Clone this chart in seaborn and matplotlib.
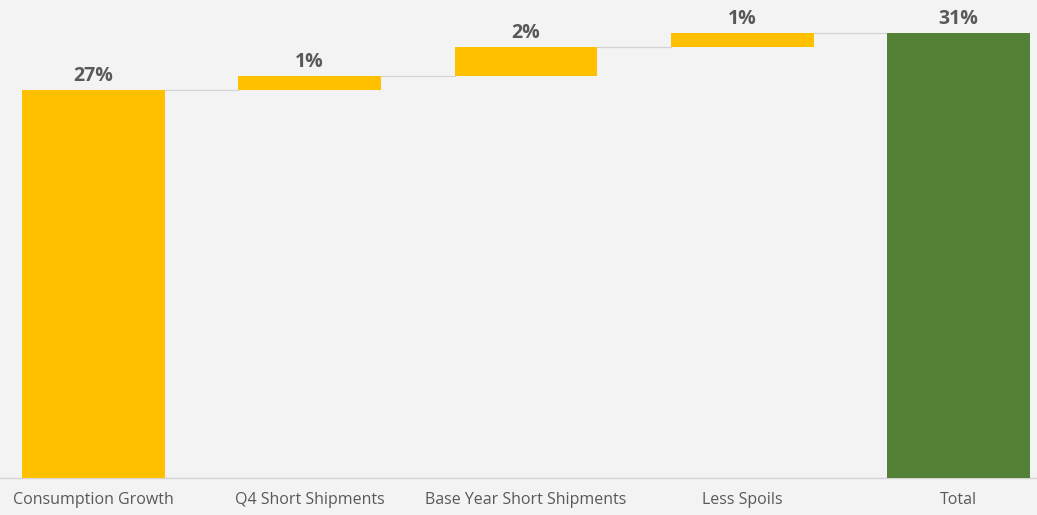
import numpy as np
import matplotlib
matplotlib.use("Agg")
import matplotlib.pyplot as plt
import seaborn as sns

categories = ["Consumption Growth", "Q4 Short Shipments", "Base Year Short Shipments",
              "Less Spoils", "Total"]
values = [27, 1, 2, 1, 31]
is_total = [False, False, False, False, True]
labels = ["27%", "1%", "2%", "1%", "31%"]

# waterfall geometry: each step floats on the running total, totals start at zero
bases = []
running = 0
for v, t in zip(values, is_total):
    if t:
        bases.append(0)
    else:
        bases.append(running)
        running += v
tops = [b + v for b, v in zip(bases, values)]

sns.set_theme(style="white")
plt.rcParams["font.family"] = ["Open Sans", "DejaVu Sans"]

bg = "#f3f3f3"
fig = plt.figure(figsize=(10.37, 5.15), dpi=100, facecolor=bg)
ax = fig.add_axes([0, 37 / 515, 1, 478 / 515])
ax.set_facecolor(bg)

sns.barplot(x=categories, y=values, bottom=bases, color="#FFC000", width=0.66,
            ax=ax, saturation=1, zorder=3)
bar_colors = ["#538135" if t else "#FFC000" for t in is_total]
for patch, c in zip(ax.patches, bar_colors):
    patch.set_facecolor(c)
    patch.set_edgecolor("none")

# connectors between consecutive steps at the running level
for i in range(len(categories) - 1):
    level = tops[i]
    ax.plot([i + 0.33, i + 1 - 0.33], [level, level], color="#d4d4d4", lw=0.9, zorder=2)

for i, (lab, top) in enumerate(zip(labels, tops)):
    ax.annotate(lab, (i, top), xytext=(0, 3), textcoords="offset points",
                ha="center", va="bottom", fontsize=14, fontweight="bold", color="#595959")

ax.set_xlim(-0.432, 4.363)
ax.set_ylim(0, 33.3)
ax.set_yticks([])
ax.set_xlabel("")
ax.set_ylabel("")
for s in ["top", "left", "right"]:
    ax.spines[s].set_visible(False)
ax.spines["bottom"].set_color("#d4d4d4")
ax.spines["bottom"].set_linewidth(1.0)
ax.tick_params(axis="x", length=0, pad=10, labelsize=11.5, labelcolor="#595959")

fig.savefig("out.png", dpi=100, facecolor=bg)
